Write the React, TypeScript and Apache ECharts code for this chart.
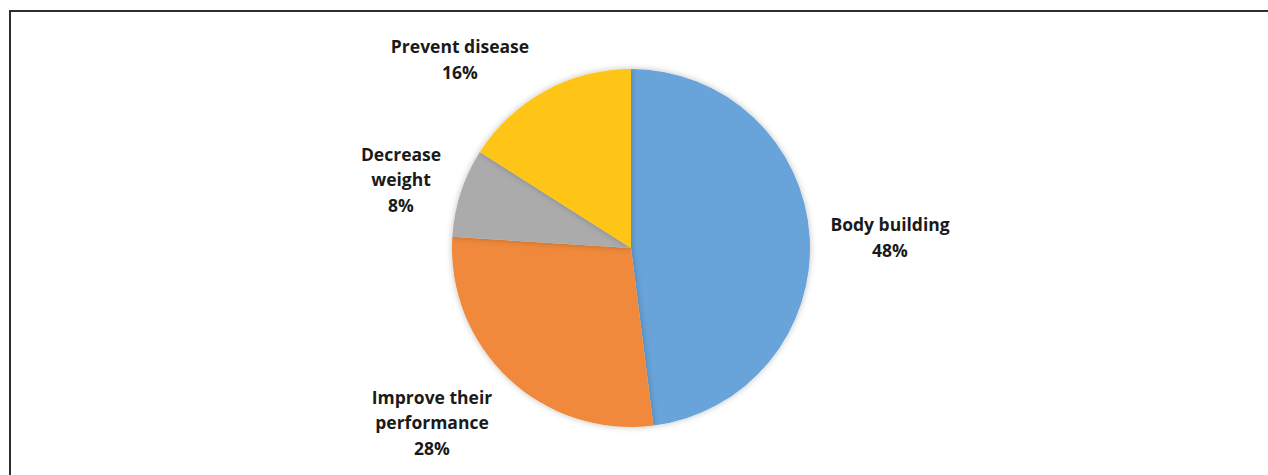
import React, { useEffect, useRef } from "react";
import * as echarts from "echarts";

const categories = [
  "Body building",
  "Improve their\nperformance",
  "Decrease\nweight",
  "Prevent disease",
];
const values = [48, 28, 8, 16];
const colors = ["#67A3D9", "#F0893A", "#ABABAB", "#FFC512"];
// label centres (page pixels), as placed in the original chart
const labelCenters: [number, number][] = [
  [890, 237],
  [432, 422],
  [401, 179],
  [460, 59],
];

export default function App() {
  const ref = useRef<HTMLDivElement>(null);
  useEffect(() => {
    if (!ref.current) return;
    const chart = echarts.init(ref.current, undefined, { renderer: "svg" });
    chart.setOption({
      animation: false,
      backgroundColor: "#ffffff",
      graphic: [
        {
          type: "rect",
          shape: { x: 10, y: 11, width: 1400, height: 600 },
          style: { fill: "none", stroke: "#2e2e2e", lineWidth: 2 },
          silent: true,
        },
      ],
      series: [
        {
          type: "pie",
          center: [631, 248],
          radius: 179,
          startAngle: 90,
          clockwise: true,
          data: categories.map((c, i) => ({
            name: c,
            value: values[i],
            itemStyle: { color: colors[i] },
          })),
          itemStyle: {
            borderWidth: 0,
            shadowBlur: 6,
            shadowColor: "rgba(0,0,0,0.25)",
          },
          labelLine: { show: false },
          label: {
            show: true,
            position: "outside",
            formatter: (p: any) => `${p.name}\n${Math.round(p.percent)}%`,
            fontFamily: "Open Sans",
            fontWeight: "bold",
            fontSize: 17.5,
            lineHeight: 25.5,
            color: "#1a1a1a",
            align: "center",
          },
          labelLayout: (params: any) => {
            const pos = labelCenters[params.dataIndex];
            return {
              x: pos[0],
              y: pos[1],
              align: "center",
              verticalAlign: "middle",
            };
          },
        },
      ],
    });
    return () => chart.dispose();
  }, []);
  return (
    <div
      ref={ref}
      style={{ position: "fixed", left: 0, top: 0, width: 1268, height: 475 }}
    />
  );
}
